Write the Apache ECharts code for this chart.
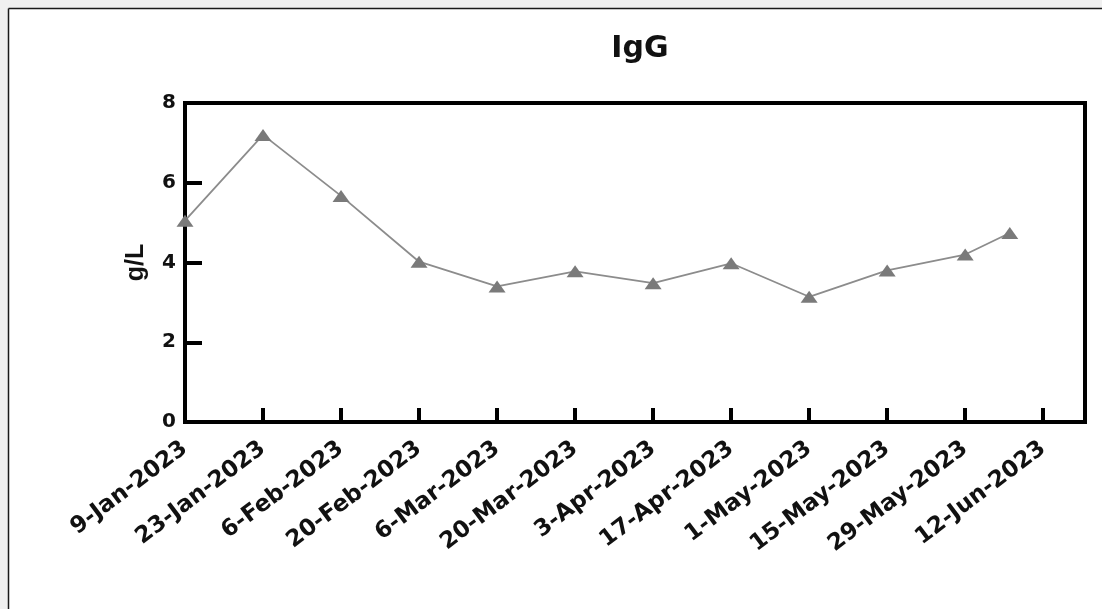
<!DOCTYPE html>
<html>
<head>
<meta charset="utf-8">
<script src="https://cdn.jsdelivr.net/npm/echarts@6/dist/echarts.min.js"></script>
<style>
html,body{margin:0;padding:0;background:#fff;}
#chart{width:1102px;height:609px;}
</style>
</head>
<body>
<div id="chart"></div>
<script>
const title = 'IgG';
const yAxisName = 'g/L';
const dates = ['2023-01-09','2023-01-23','2023-02-06','2023-02-20','2023-03-06','2023-03-20','2023-04-03','2023-04-17','2023-05-01','2023-05-15','2023-05-29','2023-06-06'];
const values = [5.05, 7.2, 5.67, 4.02, 3.4, 3.78, 3.48, 3.98, 3.14, 3.8, 4.2, 4.74];
const tickDates = ['2023-01-09','2023-01-23','2023-02-06','2023-02-20','2023-03-06','2023-03-20','2023-04-03','2023-04-17','2023-05-01','2023-05-15','2023-05-29','2023-06-12'];
const tickLabels = ['9-Jan-2023','23-Jan-2023','6-Feb-2023','20-Feb-2023','6-Mar-2023','20-Mar-2023','3-Apr-2023','17-Apr-2023','1-May-2023','15-May-2023','29-May-2023','12-Jun-2023'];
const xMaxDate = '2023-06-19T12:00:00Z';

const DAY = 86400000;
const t0 = Date.parse(dates[0] + 'T00:00:00Z');
const toDay = d => (Date.parse(d.length > 10 ? d : d + 'T00:00:00Z') - t0) / DAY;
const tickDays = tickDates.map(toDay);
const labelMap = {};
tickDays.forEach((d, i) => { labelMap[d] = tickLabels[i]; });
const seriesData = dates.map((d, i) => [toDay(d), values[i]]);

const chart = echarts.init(document.getElementById('chart'), null, {renderer: 'canvas'});
chart.setOption({
  backgroundColor: '#ffffff',
  animation: false,
  title: {
    text: title,
    left: 635,
    textAlign: 'center',
    top: 29,
    textStyle: {fontFamily: 'DejaVu Sans', fontWeight: 'bold', fontSize: 30, color: '#111'}
  },
  graphic: [
    {type: 'rect', shape: {x: 0, y: 0, width: 1102, height: 8}, style: {fill: '#f0f0f0'}, silent: true},
    {type: 'rect', shape: {x: 0, y: 0, width: 8, height: 609}, style: {fill: '#f0f0f0'}, silent: true},
    {type: 'line', shape: {x1: 8.5, y1: 8.5, x2: 1102, y2: 8.5}, style: {stroke: '#1a1a1a', lineWidth: 1.5}, silent: true},
    {type: 'line', shape: {x1: 8.5, y1: 8.5, x2: 8.5, y2: 609}, style: {stroke: '#1a1a1a', lineWidth: 1.5}, silent: true}
  ],
  grid: {
    left: 185, right: 17, top: 103, bottom: 187,
    show: true, borderColor: '#000', borderWidth: 4, backgroundColor: 'transparent'
  },
  xAxis: {
    type: 'value',
    min: 0,
    max: toDay(xMaxDate),
    interval: 14,
    splitLine: {show: false},
    axisLine: {show: true, onZero: false, lineStyle: {color: '#000', width: 4}},
    axisTick: {show: true, inside: true, length: 14, lineStyle: {color: '#000', width: 4}, customValues: tickDays},
    axisLabel: {
      show: true,
      customValues: tickDays,
      rotate: 37,
      margin: 24,
      fontFamily: 'DejaVu Sans',
      fontWeight: 'bold',
      fontSize: 23,
      color: '#111',
      formatter: v => labelMap[Math.round(v)] || ''
    }
  },
  yAxis: {
    type: 'value',
    min: 0, max: 8, interval: 2,
    name: yAxisName,
    nameLocation: 'middle',
    nameGap: 36,
    nameRotate: 90,
    nameTextStyle: {fontFamily: 'Liberation Sans, Arial, sans-serif', fontWeight: 'bold', fontSize: 25, color: '#111'},
    splitLine: {show: false},
    axisLine: {show: true, lineStyle: {color: '#000', width: 4}},
    axisTick: {show: true, inside: true, length: 17, lineStyle: {color: '#000', width: 4}},
    axisLabel: {
      margin: 9,
      fontFamily: 'DejaVu Sans',
      fontWeight: 'bold',
      fontSize: 20,
      color: '#111'
    }
  },
  series: [{
    type: 'line',
    data: seriesData,
    symbol: 'triangle',
    symbolSize: [17, 12],
    showAllSymbol: true,
    itemStyle: {color: '#7a7a7a'},
    lineStyle: {color: '#8c8c8c', width: 1.8},
    clip: false
  }]
});
</script>
</body>
</html>
